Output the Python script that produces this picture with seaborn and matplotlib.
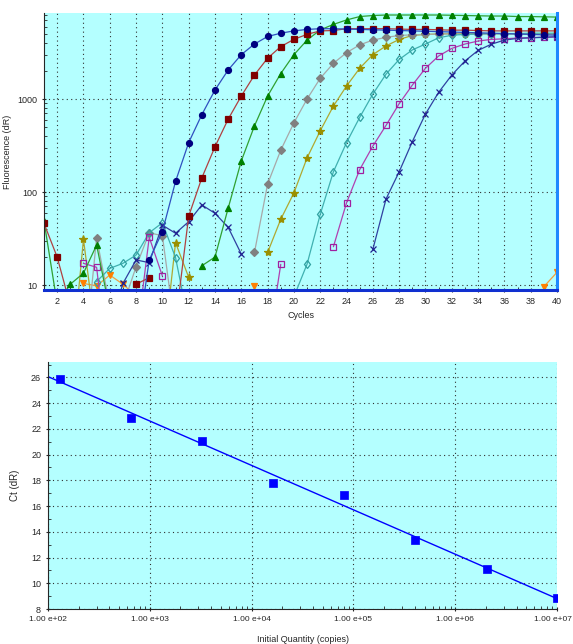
import matplotlib
matplotlib.use("Agg")
import matplotlib.pyplot as plt
import matplotlib.transforms as mtransforms
import numpy as np
import pandas as pd
import seaborn as sns
from matplotlib.ticker import FixedLocator, FuncFormatter, LogLocator, MultipleLocator, NullFormatter

N = np.nan
CYCLES = list(range(1, 41))

# Amplification curves (fluorescence dR per cycle), NaN = not drawn
navy_circ = [N, N, N, N, N, N, N, 2, 18.6, 37.5, 130, 340, 680, 1250, 2050, 3000, 3900, 4700, 5100, 5400,
             5600, 5700, 5700, 5650, 5600, 5550, 5500, 5450, 5400, 5350, 5300, 5250, 5200, 5150, 5100, 5050,
             5000, 4950, 4900, 4850]
red_sq = [46, 20, 6, N, N, N, N, 10.2, 12, N, 4, 55, 142, 307, 607, 1077, 1810, 2750, 3660, 4380,
          4960, 5400, 5450, 5700, 5700, 5700, 5700, 5650, 5600, 5600, 5550, 5500, 5500, 5450, 5400, 5400,
          5400, 5400, 5400, 5400]
green_tri = [48.8, 6.3, 10.2, 13.4, 26.9, 5.4, N, N, N, N, N, N, 16.1, 20, 67, 216, 514, 1077, 1880, 3000,
             4300, 5530, 6340, 7080, 7700, 7900, 8000, 8000, 8000, 8000, 8000, 7950, 7900, 7850, 7800, 7800,
             7700, 7700, 7650, 7600]
gray_dia = [N, N, N, 1.2, 32.3, 6, 6, 15.7, 36.5, 33.8, 3, N, N, N, N, N, 22.4, 122, 282, 555,
            1000, 1670, 2420, 3150, 3820, 4300, 4600, 4820, 4900, 4950, 5000, 5000, 5000, 5000, 5000, 5000,
            5000, 4950, 4950, 4950]
olive_star = [N, N, 1, 31, 2.5, N, N, N, N, 1.5, 28.5, 12.1, N, N, N, N, N, 22.4, 51, 98,
              233, 455, 840, 1380, 2140, 3000, 3720, 4370, 4820, 4950, 5000, 5050, 5050, 5050, 5050, 5050,
              5000, 5000, 5000, 5000]
teal_dia = [N, N, N, N, 10.9, 15.1, 17.1, 21, 36.5, 46.7, 19.7, 3.9, N, N, N, N, N, N, N, 7.5,
            16.8, 57.5, 165, 340, 635, 1130, 1850, 2660, 3370, 3900, 4550, 4850, 4950, 5000, 5050, 5050,
            5050, 5100, 5100, 5100]
purple_sq = [N, N, N, 17.1, 15.5, 0.9, N, 2.4, 32.6, 12.5, N, N, N, N, N, N, N, 2, 16.7, N,
             N, N, 25.8, 76.6, 174, 312, 520, 890, 1410, 2140, 2900, 3500, 3900, 4200, 4370, 4440,
             4520, 4560, 4640, 4640]
navy_x = [N, N, N, N, N, 3.4, 10.4, 18.6, 17.4, 44, 36, 48, 72.6, 59, 41.7, 21.5, N, N, N, N,
          N, N, N, N, N, 24.2, 84, 165, 348, 690, 1180, 1810, 2560, 3330, 3880, 4300,
          4480, 4550, 4600, 4680]
orange_tri = [N, N, N, 10.4, 9.8, 12.8, 10.2, 7.6, N, N, N, N, N, N, N, N, 9.8, N, N, N,
              N, N, N, N, N, N, N, N, N, N, N, N, N, N, N, N, N, N, 9.6, 13.7]

# Standard curve
quantity = [1.0e7, 2.04e6, 4.06e5, 8.16e4, 1.63e4, 3.27e3, 6.55e2, 1.31e2]
ct = [8.83, 11.09, 13.37, 16.87, 17.83, 21.07, 22.84, 25.9]

# (values, line colour, marker colour, marker, filled)
SERIES = [
    (orange_tri, "#f0a040", "#ff8000", "v", True),
    (olive_star, "#b0a830", "#9a9000", "*", True),
    (gray_dia, "#a8a8a8", "#808080", "D", True),
    (teal_dia, "#40b0b0", "#30a0a0", "d", False),
    (purple_sq, "#b040b0", "#a020a0", "s", False),
    (navy_x, "#3040a0", "#202090", "x", True),
    (green_tri, "#30a030", "#008000", "^", True),
    (red_sq, "#b04040", "#800000", "s", True),
    (navy_circ, "#3050c0", "#000080", "o", True),
]

BG = "#b4ffff"
FS = 6.5


def segments(values: list) -> pd.DataFrame:
    df = pd.DataFrame({"cycle": CYCLES, "fluor": values})
    df["seg"] = df["fluor"].isna().cumsum()
    return df.dropna()


def style_axes(ax) -> None:
    ax.set_facecolor(BG)
    ax.grid(True, which="major", linestyle=(0, (1, 3)), color="#303030", linewidth=0.8)
    ax.set_axisbelow(True)
    ax.tick_params(labelsize=FS, length=3, width=0.8, direction="inout")
    ax.tick_params(which="minor", length=2, width=0.6, direction="in")
    for s in ["top", "right"]:
        ax.spines[s].set_visible(False)


sns.set_style("ticks")
plt.rcParams["font.family"] = ["Liberation Sans", "DejaVu Sans"]

fig = plt.figure(figsize=(5.73, 6.44), dpi=100)
ax1 = fig.add_axes([0.0768, 0.5497, 0.8953, 0.4302])
ax2 = fig.add_axes([0.0838, 0.0543, 0.8883, 0.3836])

# Top: amplification plot
ax1.set_yscale("log")
for values, lc, mc, mk, filled in SERIES:
    sns.lineplot(
        data=segments(values), x="cycle", y="fluor", units="seg", estimator=None,
        color=lc, linewidth=0.9, marker=mk, markersize=4.3 if mk != "*" else 6,
        markerfacecolor=mc if filled else "none", markeredgecolor=mc,
        markeredgewidth=0.9, legend=False, ax=ax1,
    )
ax1.set_xlim(1, 40)
ax1.set_ylim(8.84, 8420)
style_axes(ax1)
ax1.xaxis.set_major_locator(MultipleLocator(2))
ax1.xaxis.set_minor_locator(MultipleLocator(1))
ax1.yaxis.set_major_locator(FixedLocator([10, 100, 1000]))
ax1.yaxis.set_major_formatter(FuncFormatter(lambda v, p: f"{v:.0f}"))
ax1.yaxis.set_minor_locator(LogLocator(base=10, subs=np.arange(2, 10)))
ax1.yaxis.set_minor_formatter(NullFormatter())
ax1.spines["bottom"].set_color("#1030d0")
ax1.spines["bottom"].set_linewidth(2.2)
ax1.spines["right"].set_visible(True)
ax1.spines["right"].set_color("#1e88ff")
ax1.spines["right"].set_linewidth(2.2)
ax1.set_xlabel("Cycles", fontsize=FS, labelpad=4)
ax1.set_ylabel("Fluorescence (dR)", fontsize=FS, labelpad=4)

# Bottom: standard curve
ax2.set_xscale("log")
ax2.set_xlim(1e2, 1e7)
sns.regplot(x=quantity, y=ct, logx=True, truncate=False, scatter=False, ci=None,
            line_kws={"color": "#0000ff", "linewidth": 1.0}, ax=ax2)
sns.scatterplot(x=quantity, y=ct, marker="s", s=28, color="#0000ff",
                edgecolor="#0000ff", linewidth=0.5, zorder=3, ax=ax2)
ax2.set_xlim(1e2, 1e7)
ax2.set_ylim(8, 27.2)
style_axes(ax2)
ax2.yaxis.set_major_locator(MultipleLocator(2))
ax2.yaxis.set_minor_locator(MultipleLocator(1))
ax2.xaxis.set_major_locator(FixedLocator([1e2, 1e3, 1e4, 1e5, 1e6, 1e7]))
ax2.xaxis.set_minor_locator(LogLocator(base=10, subs=np.arange(2, 10), numticks=20))
ax2.xaxis.set_minor_formatter(NullFormatter())
ax2.xaxis.set_major_formatter(FuncFormatter(lambda v, p: f"{v:.2e}".replace("e", " e")))
ax2.tick_params(axis="x", labelsize=6)
ax2.set_xlabel("Initial Quantity (copies)", fontsize=FS, labelpad=9)
ax2.set_ylabel("Ct (dR)", fontsize=FS + 0.5, labelpad=8)

# keep the last quantity label inside the figure
fig.canvas.draw()
last = ax2.get_xticklabels()[-1]
last.set_horizontalalignment("right")
last.set_transform(last.get_transform() + mtransforms.ScaledTranslation(0.15, 0, fig.dpi_scale_trans))

fig.savefig("out.png", dpi=100)
